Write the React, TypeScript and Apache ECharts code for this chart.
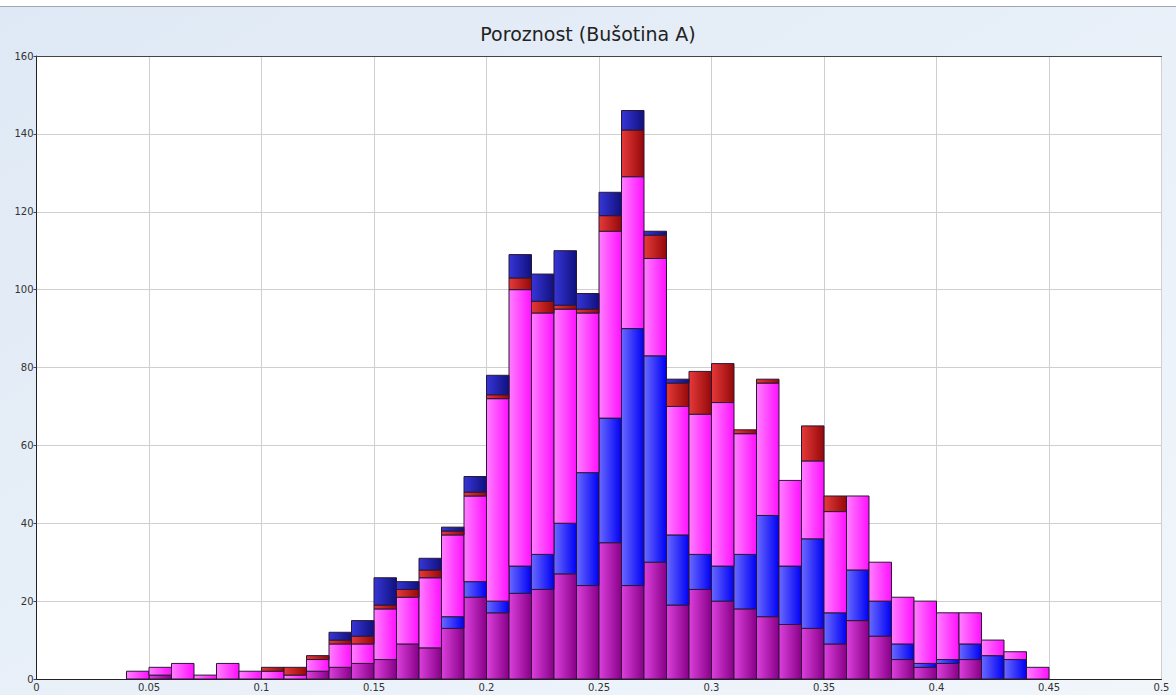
import React, { useEffect, useRef } from "react";
import * as echarts from "echarts";

const TITLE = "Poroznost (Bušotina A)";

// Histogram bins (left edges), width 0.01
const binStarts = [
  0.04, 0.05, 0.06, 0.07, 0.08, 0.09, 0.10, 0.11, 0.12, 0.13,
  0.14, 0.15, 0.16, 0.17, 0.18, 0.19, 0.20, 0.21, 0.22, 0.23,
  0.24, 0.25, 0.26, 0.27, 0.28, 0.29, 0.30, 0.31, 0.32, 0.33,
  0.34, 0.35, 0.36, 0.37, 0.38, 0.39, 0.40, 0.41, 0.42, 0.43,
  0.44,
];
const BIN_WIDTH = 0.01;

// Stack layers, bottom to top
const purpleCounts = [
  0, 1, 0, 0, 0, 0, 0, 0, 2, 3,
  4, 5, 9, 8, 13, 21, 17, 22, 23, 27,
  24, 35, 24, 30, 19, 23, 20, 18, 16, 14,
  13, 9, 15, 11, 5, 3, 4, 5, 0, 0,
  0,
];
const blueCounts = [
  0, 0, 0, 0, 0, 0, 0, 0, 0, 0,
  0, 0, 0, 0, 3, 4, 3, 7, 9, 13,
  29, 32, 66, 53, 18, 9, 9, 14, 26, 15,
  23, 8, 13, 9, 4, 1, 1, 4, 6, 5,
  0,
];
const pinkCounts = [
  2, 2, 4, 1, 4, 2, 2, 1, 3, 6,
  5, 13, 12, 18, 21, 22, 52, 71, 62, 55,
  41, 48, 39, 25, 33, 36, 42, 31, 34, 22,
  20, 26, 19, 10, 12, 16, 12, 8, 4, 2,
  3,
];
const redCounts = [
  0, 0, 0, 0, 0, 0, 1, 2, 1, 1,
  2, 1, 2, 2, 1, 1, 1, 3, 3, 1,
  1, 4, 12, 6, 6, 11, 10, 1, 1, 0,
  9, 4, 0, 0, 0, 0, 0, 0, 0, 0,
  0,
];
const navyCounts = [
  0, 0, 0, 0, 0, 0, 0, 0, 0, 2,
  4, 7, 2, 3, 1, 4, 5, 6, 7, 14,
  4, 6, 5, 1, 1, 0, 0, 0, 0, 0,
  0, 0, 0, 0, 0, 0, 0, 0, 0, 0,
  0,
];

const layers = [
  { name: "purple", counts: purpleCounts, c0: "#dc40dc", c1: "#880088" },
  { name: "blue", counts: blueCounts, c0: "#6a6aff", c1: "#0000f4" },
  { name: "pink", counts: pinkCounts, c0: "#ff80ff", c1: "#ff10ff" },
  { name: "red", counts: redCounts, c0: "#e63a3a", c1: "#950808" },
  { name: "navy", counts: navyCounts, c0: "#3636d8", c1: "#10107e" },
];

const xTicks = { min: 0, max: 0.5, interval: 0.05 };
const yTicks = { min: 0, max: 160, interval: 20 };

export default function App() {
  const ref = useRef<HTMLDivElement>(null);

  useEffect(() => {
    if (!ref.current) return;
    const chart = echarts.init(ref.current, null, { renderer: "svg" });

    const cum = binStarts.map(() => 0);
    const series: any[] = layers.map((layer) => {
      const data = binStarts.map((x0, i) => {
        const base = cum[i];
        const top = base + layer.counts[i];
        cum[i] = top;
        return [x0, x0 + BIN_WIDTH, base, top];
      });
      return {
        type: "custom",
        name: layer.name,
        dimensions: ["x0", "x1", "base", "top"],
        encode: { x: [0, 1], y: [2, 3] },
        data,
        renderItem: (params: any, api: any) => {
          const x0 = api.value(0);
          const x1 = api.value(1);
          const b = api.value(2);
          const t = api.value(3);
          if (t <= b) return null;
          const p0 = api.coord([x0, b]);
          const p1 = api.coord([x1, t]);
          return {
            type: "rect",
            shape: {
              x: p0[0],
              y: p1[1],
              width: p1[0] - p0[0],
              height: p0[1] - p1[1],
            },
            style: {
              fill: new echarts.graphic.LinearGradient(0, 0, 1, 0, [
                { offset: 0, color: layer.c0 },
                { offset: 1, color: layer.c1 },
              ]),
              stroke: "#2a1736",
              lineWidth: 1,
            },
          };
        },
      };
    });

    const fmtX = (v: number) => String(parseFloat(v.toFixed(2)));

    chart.setOption({
      animation: false,
      backgroundColor: new echarts.graphic.LinearGradient(0, 0, 1, 1, [
        { offset: 0, color: "#dfe9f5" },
        { offset: 1, color: "#f1f6fb" },
      ]),
      title: {
        text: TITLE,
        left: "center",
        top: 19,
        textStyle: {
          fontFamily: "DejaVu Sans",
          fontSize: 19,
          fontWeight: "normal",
          color: "#222",
        },
      },
      graphic: [
        {
          type: "rect",
          shape: { x: 0, y: 0, width: 1176, height: 6 },
          style: { fill: "#ffffff" },
          silent: true,
        },
        {
          type: "line",
          shape: { x1: 0, y1: 6.5, x2: 1176, y2: 6.5 },
          style: { stroke: "#a4a8ae", lineWidth: 1 },
          silent: true,
        },
      ],
      grid: {
        left: 36.5,
        right: 14.5,
        top: 56,
        bottom: 16,
        show: true,
        backgroundColor: "#ffffff",
        borderWidth: 0,
      },
      xAxis: [
        {
          type: "value",
          min: xTicks.min,
          max: xTicks.max,
          interval: xTicks.interval,
          axisLine: { show: true, lineStyle: { color: "#222", width: 1 } },
          axisTick: { show: false },
          axisLabel: {
            formatter: fmtX,
            fontFamily: "DejaVu Sans",
            fontSize: 10,
            color: "#333",
            margin: 3,
          },
          splitLine: { show: true, lineStyle: { color: "#cfcfcf", width: 1 } },
        },
        {
          type: "value",
          position: "top",
          min: xTicks.min,
          max: xTicks.max,
          interval: xTicks.interval,
          axisLine: { show: true, lineStyle: { color: "#444", width: 1 } },
          axisTick: { show: false },
          axisLabel: { show: false },
          splitLine: { show: false },
        },
      ],
      yAxis: {
        type: "value",
        min: yTicks.min,
        max: yTicks.max,
        interval: yTicks.interval,
        axisLine: { show: true, lineStyle: { color: "#222", width: 1 } },
        axisTick: { show: true, length: 3, lineStyle: { color: "#444" } },
        axisLabel: {
          fontFamily: "DejaVu Sans",
          fontSize: 10,
          color: "#333",
          margin: 3,
        },
        splitLine: { show: true, lineStyle: { color: "#cfcfcf", width: 1 } },
      },
      series,
    });

    return () => chart.dispose();
  }, []);

  return (
    <div
      ref={ref}
      style={{ position: "fixed", left: 0, top: 0, width: 1176, height: 695 }}
    />
  );
}
